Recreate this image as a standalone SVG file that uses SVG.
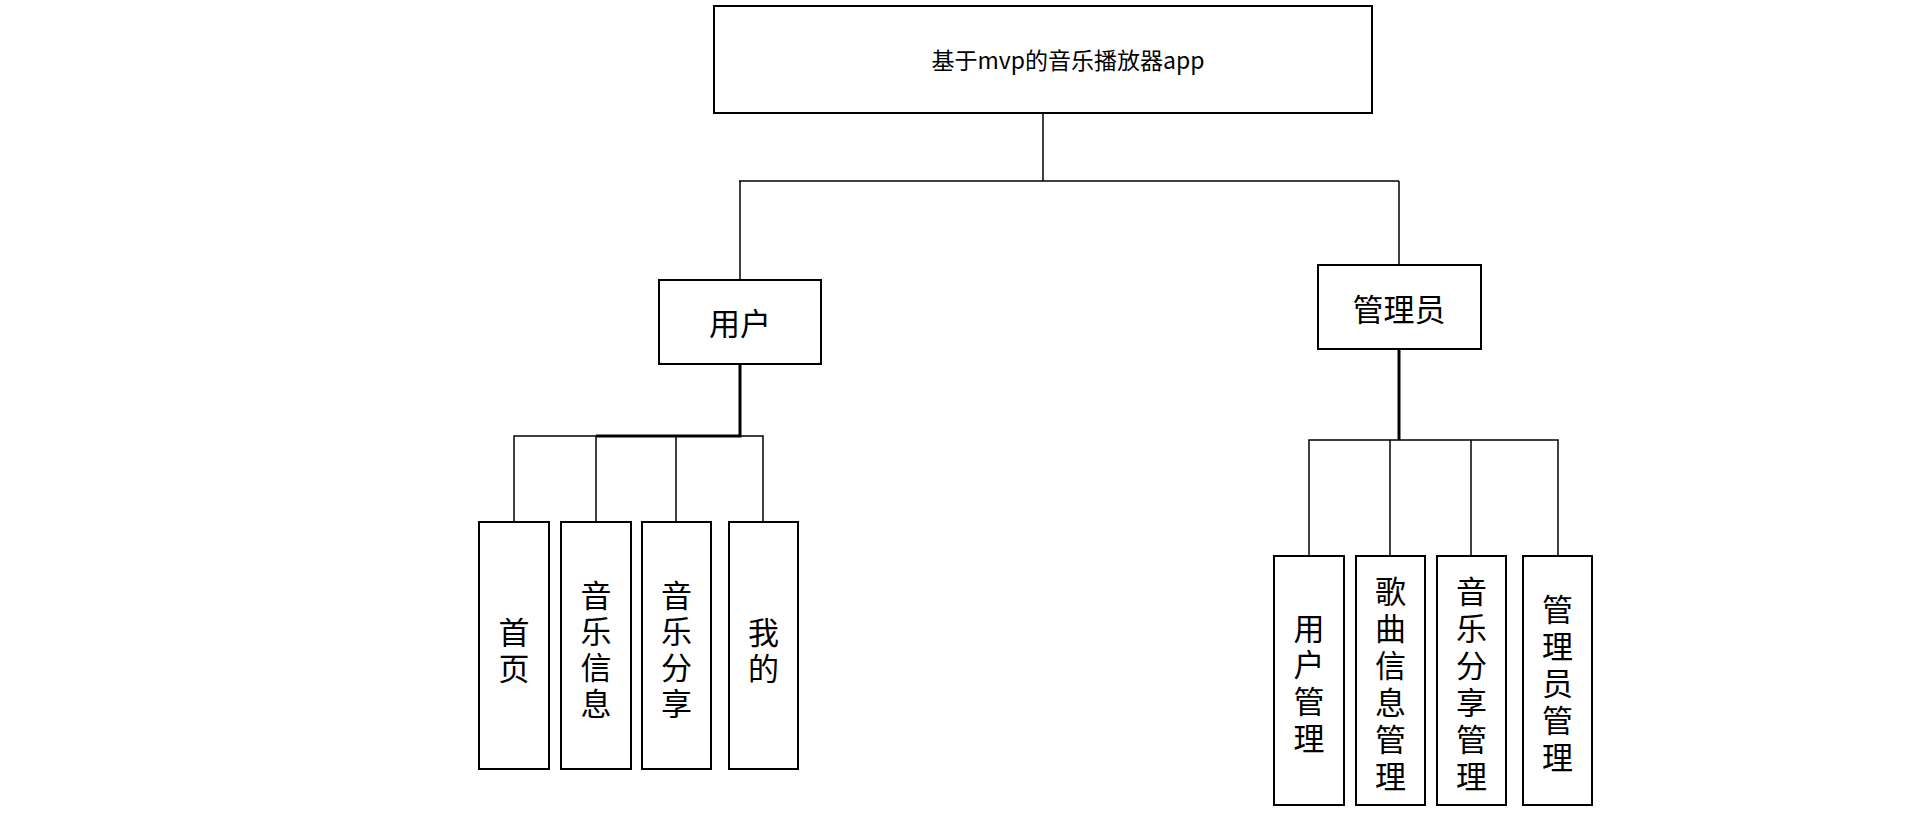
<svg xmlns="http://www.w3.org/2000/svg" width="1919" height="815" viewBox="0 0 1919 815">
<style>
.box{fill:#fff;stroke:#000;stroke-width:2}
.ln{fill:none;stroke:#000;stroke-width:1.5}
.thick{fill:none;stroke:#000;stroke-width:3}
text{font-family:"Noto Sans CJK SC","Noto Sans",sans-serif;fill:#000;text-anchor:middle;dominant-baseline:central}
.t{font-size:23px}
.m{font-size:31px}
</style>
<rect width="1919" height="815" fill="#fff"/>
<g id="connectors">
<path class="ln" d="M1043 113V181M739 181H1399M740 181V280M1399 181V265"/>
<path class="thick" d="M740 363V436H596"/>
<path class="ln" d="M514 522V436H596M596 436V522M676 436V522M740 436H763V522"/>
<path class="thick" d="M1399 349V440"/>
<path class="ln" d="M1309 556V440H1558V556M1390 440V556M1471 440V556"/>
</g>
<g id="root"><rect class="box" x="714" y="6" width="658" height="107"/><text class="t" x="1068" y="59">基于mvp的音乐播放器app</text></g>
<g id="user"><rect class="box" x="659" y="280" width="162" height="84"/><text class="m" x="740" y="321">用户</text></g>
<g id="admin"><rect class="box" x="1318" y="265" width="163" height="84"/><text class="m" x="1399" y="307">管理员</text></g>
<g id="home"><rect class="box" x="479" y="522" width="70" height="247"/><text class="m"><tspan x="514" y="630">首</tspan><tspan x="514" y="666">页</tspan></text></g>
<g id="musicinfo"><rect class="box" x="561" y="522" width="70" height="247"/><text class="m"><tspan x="596" y="593">音</tspan><tspan x="596" y="629">乐</tspan><tspan x="596" y="665">信</tspan><tspan x="596" y="701">息</tspan></text></g>
<g id="musicshare"><rect class="box" x="642" y="522" width="69" height="247"/><text class="m"><tspan x="676.5" y="593">音</tspan><tspan x="676.5" y="629">乐</tspan><tspan x="676.5" y="665">分</tspan><tspan x="676.5" y="701">享</tspan></text></g>
<g id="mine"><rect class="box" x="729" y="522" width="69" height="247"/><text class="m"><tspan x="763.5" y="630">我</tspan><tspan x="763.5" y="666">的</tspan></text></g>
<g id="usermgmt"><rect class="box" x="1274" y="556" width="70" height="249"/><text class="m"><tspan x="1309" y="626">用</tspan><tspan x="1309" y="662">户</tspan><tspan x="1309" y="699">管</tspan><tspan x="1309" y="736">理</tspan></text></g>
<g id="songmgmt"><rect class="box" x="1356" y="556" width="69" height="249"/><text class="m"><tspan x="1390.5" y="589">歌</tspan><tspan x="1390.5" y="626">曲</tspan><tspan x="1390.5" y="663">信</tspan><tspan x="1390.5" y="700">息</tspan><tspan x="1390.5" y="737">管</tspan><tspan x="1390.5" y="774">理</tspan></text></g>
<g id="sharemgmt"><rect class="box" x="1437" y="556" width="69" height="249"/><text class="m"><tspan x="1471.5" y="589">音</tspan><tspan x="1471.5" y="626">乐</tspan><tspan x="1471.5" y="663">分</tspan><tspan x="1471.5" y="700">享</tspan><tspan x="1471.5" y="737">管</tspan><tspan x="1471.5" y="774">理</tspan></text></g>
<g id="adminmgmt"><rect class="box" x="1523" y="556" width="69" height="249"/><text class="m"><tspan x="1557.5" y="607">管</tspan><tspan x="1557.5" y="644">理</tspan><tspan x="1557.5" y="681">员</tspan><tspan x="1557.5" y="718">管</tspan><tspan x="1557.5" y="755">理</tspan></text></g>
</svg>
